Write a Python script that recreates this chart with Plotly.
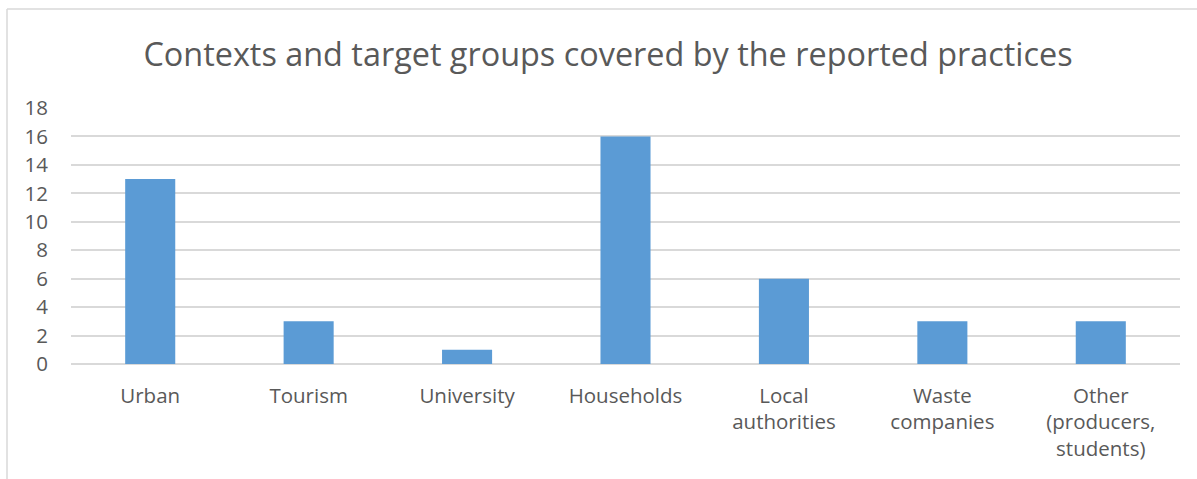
import plotly.graph_objects as go

categories = ["Urban", "Tourism", "University", "Households",
              "Local<br>authorities", "Waste<br>companies",
              "Other<br>(producers,<br>students)"]
counts = [13, 3, 1, 16, 6, 3, 3]
y_ticks = [0, 2, 4, 6, 8, 10, 12, 14, 16, 18]

W, H = 1197, 479
L, R, T, B = 71, 17, 108, 115
pw, ph = W - L - R, H - T - B

fig = go.Figure(go.Bar(x=categories, y=counts, marker_color="#5B9BD5",
                       marker_line_width=0))

font = "Open Sans, Lato, sans-serif"
fig.update_layout(
    width=W, height=H,
    margin=dict(l=L, r=R, t=T, b=B, pad=0),
    paper_bgcolor="white", plot_bgcolor="white",
    bargap=0.684,
    showlegend=False,
    title=dict(text="Contexts and target groups covered by the reported practices",
               x=608 / W, xanchor="center", xref="container",
               y=1 - 55 / H, yanchor="middle",
               font=dict(family=font, size=32.4, color="#595959")),
    font=dict(family=font, color="#595959"),
    xaxis=dict(showgrid=False, showline=False, ticks="",
               tickfont=dict(size=20.5, color="#595959"),
               ticklabelstandoff=17),
    yaxis=dict(range=[0, 18], tickvals=y_ticks, showgrid=True,
               gridcolor="#D9D9D9", gridwidth=1.5,
               zeroline=True, zerolinecolor="#D9D9D9", zerolinewidth=1.5,
               showline=False, ticks="",
               tickfont=dict(size=20.5, color="#595959"),
               ticklabelstandoff=22),
)

# chart frame (left and top edges visible)
x_left = (7 - L) / pw
y_top = 1 + (T - 9) / ph
fig.add_shape(type="line", xref="paper", yref="paper",
              x0=x_left, x1=x_left, y0=-2, y1=y_top,
              line=dict(color="#D9D9D9", width=1.5))
fig.add_shape(type="line", xref="paper", yref="paper",
              x0=x_left, x1=2, y0=y_top, y1=y_top,
              line=dict(color="#D9D9D9", width=1.5))

fig.write_html("out.html")
